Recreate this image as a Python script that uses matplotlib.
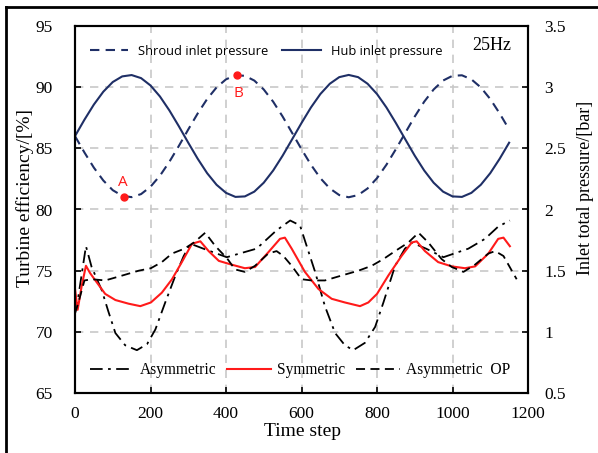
import matplotlib
matplotlib.use("Agg")
import matplotlib.pyplot as plt
from matplotlib.lines import Line2D

# ---------------- data ----------------
press_t = [0, 25, 50, 75, 100, 125, 150, 175, 200, 225, 250, 275, 300, 325, 350, 375,
           400, 425, 450, 475, 500, 525, 550, 575, 600, 625, 650, 675, 700, 725, 750,
           775, 800, 825, 850, 875, 900, 925, 950, 975, 1000, 1025, 1050, 1075, 1100,
           1125, 1150]
hub_p = [2.600, 2.734, 2.858, 2.963, 3.042, 3.088, 3.099, 3.074, 3.014, 2.924, 2.810,
         2.681, 2.546, 2.415, 2.297, 2.202, 2.136, 2.103, 2.107, 2.146, 2.219, 2.319,
         2.440, 2.573, 2.707, 2.834, 2.944, 3.028, 3.082, 3.100, 3.082, 3.028, 2.944,
         2.834, 2.707, 2.573, 2.440, 2.319, 2.219, 2.146, 2.107, 2.103, 2.136, 2.202,
         2.297, 2.415, 2.546]
shroud_p = [2.600, 2.466, 2.342, 2.237, 2.158, 2.112, 2.101, 2.126, 2.186, 2.276, 2.390,
            2.519, 2.654, 2.785, 2.903, 2.998, 3.064, 3.097, 3.093, 3.054, 2.981, 2.881,
            2.760, 2.627, 2.493, 2.366, 2.256, 2.172, 2.118, 2.100, 2.118, 2.172, 2.256,
            2.366, 2.493, 2.627, 2.760, 2.881, 2.981, 3.054, 3.093, 3.097, 3.064, 2.998,
            2.903, 2.785, 2.654]

sym_t = [0, 7, 18, 29, 40, 54, 80, 107, 142, 173, 201, 230, 257, 283, 310, 332, 354,
         381, 414, 450, 477, 512, 543, 556, 574, 609, 645, 680, 715, 755, 777, 800, 830,
         865, 892, 905, 927, 962, 998, 1033, 1060, 1095, 1121, 1135, 1152]
sym_eff = [73.5, 71.8, 73.8, 75.4, 74.8, 74.2, 73.1, 72.6, 72.3, 72.1, 72.4, 73.2, 74.3,
           75.7, 77.2, 77.4, 76.6, 75.8, 75.5, 75.2, 75.3, 76.5, 77.6, 77.7, 76.8, 74.9,
           73.5, 72.7, 72.4, 72.1, 72.4, 73.1, 74.6, 76.2, 77.3, 77.4, 76.6, 75.7, 75.35,
           75.2, 75.35, 76.4, 77.6, 77.7, 77.0]

asym_t = [0, 5, 29, 44, 71, 88, 107, 133, 164, 191, 213, 239, 266, 288, 306, 340, 402,
          481, 534, 570, 596, 636, 662, 689, 715, 737, 768, 795, 817, 848, 874, 892, 930,
          976, 1042, 1086, 1121, 1152]
asym_eff = [72.8, 72.1, 77.0, 75.3, 73.4, 71.7, 69.9, 68.9, 68.5, 69.0, 70.2, 72.4, 74.6,
            76.2, 77.2, 76.8, 76.1, 76.8, 78.3, 79.1, 78.7, 74.9, 72.1, 69.9, 68.9, 68.5,
            69.1, 70.4, 72.4, 75.4, 76.8, 77.3, 76.8, 76.1, 76.8, 77.6, 78.6, 79.1]

op_t = [0, 10, 25, 45, 80, 125, 169, 201, 230, 257, 290, 315, 345, 372, 403, 424, 450,
        477, 512, 534, 552, 574, 600, 627, 662, 706, 751, 786, 817, 848, 883, 910, 936,
        971, 998, 1029, 1060, 1095, 1113, 1135, 1170]
op_eff = [71.5, 72.5, 74.2, 74.3, 74.2, 74.6, 75.0, 75.2, 75.7, 76.4, 76.8, 77.3, 78.1,
          77.0, 76.0, 75.1, 74.9, 75.4, 76.4, 76.6, 76.2, 75.4, 74.3, 74.2, 74.2, 74.6,
          75.0, 75.4, 75.95, 76.6, 77.3, 78.1, 77.3, 75.95, 75.3, 74.9, 75.5, 76.4, 76.6,
          76.2, 74.3]

pt_A = (130, 2.1)
pt_B = (430, 3.1)

x_ticks = [0, 200, 400, 600, 800, 1000, 1200]
eff_ticks = [65, 70, 75, 80, 85, 90, 95]
p_ticks = [0.5, 1, 1.5, 2, 2.5, 3, 3.5]
p_tick_labels = ["0.5", "1", "1.5", "2", "2.5", "3", "3.5"]

# ---------------- figure ----------------
W, H = 598, 453
fig = plt.figure(figsize=(W / 100, H / 100), dpi=100)
serif = "Liberation Serif"
sans = "Open Sans"

ax = fig.add_axes([75 / W, 1 - 393 / H, (528 - 75) / W, (393 - 26) / H])
ax2 = ax.twinx()

navy = "#1f2f66"
red = "#ff1a1a"
ax2.plot(press_t, shroud_p, color=navy, lw=1.5, ls=(0, (4.5, 3)))
ax2.plot(press_t, hub_p, color=navy, lw=1.5)
ax2.plot(*pt_A, "o", color=red, ms=5, zorder=5)
ax2.plot(*pt_B, "o", color=red, ms=5, zorder=5)
ax2.text(pt_A[0] - 3, pt_A[1] + 0.06, "A", color=red, fontsize=11,
         family=sans, ha="center", va="bottom")
ax2.text(pt_B[0] + 3, pt_B[1] - 0.09, "B", color=red, fontsize=11,
         family=sans, ha="center", va="top")

ax.plot(asym_t, asym_eff, color="black", lw=1.3, ls=(0, (7, 3, 1.5, 3)))
ax.plot(sym_t, sym_eff, color=red, lw=1.5)
ax.plot(op_t, op_eff, color="black", lw=1.3, ls=(0, (5, 3)))

ax.set_xlim(0, 1200)
ax.set_ylim(65, 95)
ax2.set_ylim(0.5, 3.5)
ax.set_xticks(x_ticks)
ax.set_yticks(eff_ticks)
ax2.set_yticks(p_ticks)
ax2.set_yticklabels(p_tick_labels)

ax.grid(True, color="#c8c8c8", lw=1.2, ls=(0, (5, 4)))
ax.set_axisbelow(True)

for a in (ax, ax2):
    a.tick_params(direction="in", length=4, width=1.2, labelsize=12.5)
    for lab in a.get_xticklabels() + a.get_yticklabels():
        lab.set_family(serif)
    for s in a.spines.values():
        s.set_linewidth(1.5)
ax.tick_params(axis="x", pad=9)
ax.tick_params(axis="y", pad=16)
ax2.tick_params(axis="y", pad=12)

fig.text(302 / W, 1 - 432 / H, "Time step", family=serif, fontsize=14,
         ha="center", va="center")
fig.text(25 / W, 1 - 198 / H, "Turbine efficiency/[%]", family=serif, fontsize=14,
         rotation=90, ha="center", va="center")
fig.text(585 / W, 1 - 188 / H, "Inlet total pressure/[bar]", family=serif, fontsize=13,
         rotation=90, ha="center", va="center")

# top legend
h_top = [Line2D([], [], color=navy, lw=1.5, ls=(0, (4.5, 3))),
         Line2D([], [], color=navy, lw=1.5)]
fig.legend(h_top, ["Shroud inlet pressure", "Hub inlet pressure"], loc="center",
           bbox_to_anchor=(266 / W, 1 - 51 / H), ncol=2, frameon=False,
           prop={"family": sans, "size": 9.3}, handlelength=3.0, handletextpad=0.75,
           columnspacing=1.1, borderpad=0, borderaxespad=0)
fig.text(492 / W, 1 - 45 / H, "25Hz", family=serif, fontsize=13, ha="center", va="center")

# bottom legend
h_bot = [Line2D([], [], color="black", lw=1.3, ls=(0, (7, 3, 1.5, 3))),
         Line2D([], [], color=red, lw=1.5),
         Line2D([], [], color="black", lw=1.3, ls=(0, (5, 3)))]
fig.legend(h_bot, ["Asymmetric", "Symmetric", "Asymmetric  OP"], loc="center",
           bbox_to_anchor=(300 / W, 1 - 370 / H), ncol=3, frameon=False,
           prop={"family": serif, "size": 11.2}, handlelength=2.8, handletextpad=0.4,
           columnspacing=0.7, borderpad=0, borderaxespad=0)

# figure border (left and top)
fig.add_artist(Line2D([6 / W, 6 / W], [0, 1 - 7 / H], transform=fig.transFigure,
                      color="black", lw=2))
fig.add_artist(Line2D([6 / W, 1], [1 - 7 / H, 1 - 7 / H], transform=fig.transFigure,
                      color="black", lw=2))

fig.savefig("out.png", dpi=100)
